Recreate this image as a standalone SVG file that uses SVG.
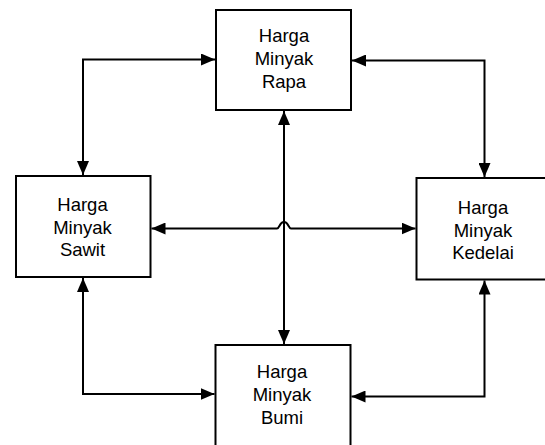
<svg xmlns="http://www.w3.org/2000/svg" width="545" height="445" viewBox="0 0 545 445">
<style>
.box{fill:#fff;stroke:#000;stroke-width:2}
.lbl{font-family:"Liberation Sans",Arial,sans-serif;font-size:18.5px;fill:#000;text-anchor:middle}
.con{fill:none;stroke:#000;stroke-width:2}
</style>
<defs>
<marker id="ah" markerUnits="userSpaceOnUse" markerWidth="15" markerHeight="12" viewBox="0 0 15 12" refX="14" refY="6" orient="auto-start-reverse">
<path d="M0,0 L14,6 L0,12 z" fill="#000"/>
</marker>
</defs>
<rect width="545" height="445" fill="#fff"/>
<g id="rapa">
<rect class="box" x="216" y="10" width="135" height="100"/>
<text class="lbl" x="284" y="42">Harga</text>
<text class="lbl" x="284" y="65">Minyak</text>
<text class="lbl" x="284" y="87.5">Rapa</text>
</g>
<g id="sawit">
<rect class="box" x="16" y="176" width="134.5" height="101"/>
<text class="lbl" x="82.5" y="211">Harga</text>
<text class="lbl" x="82.5" y="234">Minyak</text>
<text class="lbl" x="82.5" y="256">Sawit</text>
</g>
<g id="kedelai">
<rect class="box" x="416.5" y="178" width="140" height="101.5"/>
<text class="lbl" x="483" y="213.5">Harga</text>
<text class="lbl" x="483" y="236.5">Minyak</text>
<text class="lbl" x="483" y="258.5">Kedelai</text>
</g>
<g id="bumi">
<rect class="box" x="215.5" y="345" width="135" height="110"/>
<text class="lbl" x="282" y="378">Harga</text>
<text class="lbl" x="282" y="401">Minyak</text>
<text class="lbl" x="282" y="423.5">Bumi</text>
</g>
<g id="connectors">
<path class="con" d="M83,175 V59.5 H215" marker-start="url(#ah)" marker-end="url(#ah)"/>
<path class="con" d="M352,60.5 H484.5 V177" marker-start="url(#ah)" marker-end="url(#ah)"/>
<path class="con" d="M83,278 V394 H214.5" marker-start="url(#ah)" marker-end="url(#ah)"/>
<path class="con" d="M484.5,280.5 V396.5 H351.5" marker-start="url(#ah)" marker-end="url(#ah)"/>
<path class="con" d="M284,111 V344" marker-start="url(#ah)" marker-end="url(#ah)"/>
<path class="con" d="M151.5,228.5 H277 C279.5,228.5 279.5,222 284,222 C288.5,222 288.5,228.5 291,228.5 H415.5" marker-start="url(#ah)" marker-end="url(#ah)"/>
</g>
</svg>
